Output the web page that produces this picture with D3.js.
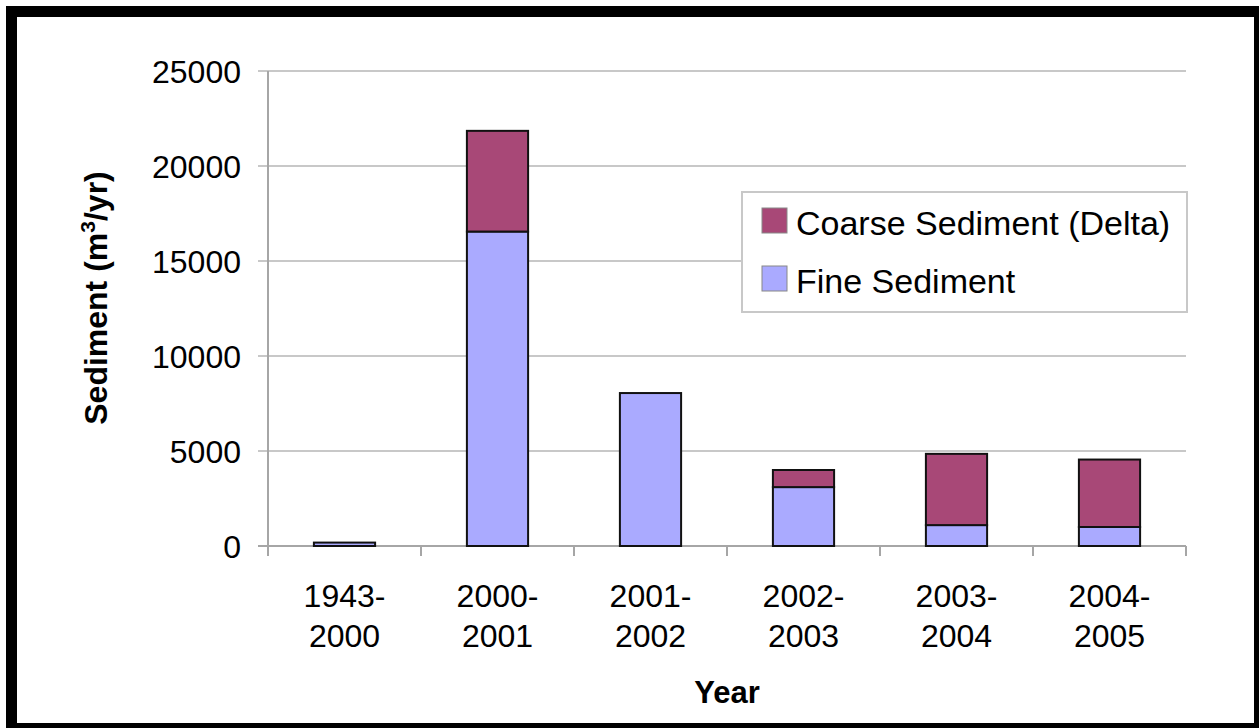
<!DOCTYPE html>
<html>
<head>
<meta charset="utf-8">
<script src="https://cdn.jsdelivr.net/npm/d3@7"></script>
<style>
  html, body { margin: 0; padding: 0; background: #fff; }
  svg { display: block; }
  text { font-family: "Liberation Sans", Arial, sans-serif; fill: #000; }
</style>
</head>
<body>
<svg id="chart" width="1259" height="728"></svg>
<script>
// Sediment volumes per period (m³/yr)
const periods = ["1943-2000", "2000-2001", "2001-2002", "2002-2003", "2003-2004", "2004-2005"];
const fineSediment = [180, 16550, 8050, 3100, 1100, 1000];
const coarseSediment = [0, 5300, 0, 900, 3750, 3550];
const seriesNames = ["Fine Sediment", "Coarse Sediment (Delta)"];
const yTicks = [0, 5000, 10000, 15000, 20000, 25000];

const colors = { "Fine Sediment": "#aaaaff", "Coarse Sediment (Delta)": "#a84877" };

const svg = d3.select("#chart");
const W = 1259, H = 728;

// Frame: black outer border with white panel
svg.append("rect").attr("x", 6).attr("y", 6).attr("width", W - 6).attr("height", H - 6).attr("fill", "#000");
svg.append("rect").attr("x", 17).attr("y", 17).attr("width", 1237).attr("height", 706).attr("fill", "#fff");

const plot = { left: 268, right: 1186, top: 71, bottom: 546 };

const x = d3.scaleBand()
  .domain(periods)
  .range([plot.left, plot.right])
  .paddingInner(0.6)
  .paddingOuter(0.3);

const y = d3.scaleLinear()
  .domain([0, 25000])
  .range([plot.bottom, plot.top]);

// Horizontal gridlines
const g = svg.append("g");
g.selectAll("line.grid")
  .data(yTicks)
  .join("line")
  .attr("class", "grid")
  .attr("x1", plot.left - 10)
  .attr("x2", plot.right)
  .attr("y1", d => y(d))
  .attr("y2", d => y(d))
  .attr("stroke", d => d === 0 ? "#a6a6a6" : "#c8c8c8")
  .attr("stroke-width", 2);

// Y axis line
g.append("line")
  .attr("x1", plot.left).attr("x2", plot.left)
  .attr("y1", plot.top).attr("y2", plot.bottom)
  .attr("stroke", "#a6a6a6").attr("stroke-width", 2);

// Category boundary ticks on x axis
const step = x.step();
const boundaries = d3.range(periods.length + 1).map(i => plot.left + i * step);
g.selectAll("line.xtick")
  .data(boundaries)
  .join("line")
  .attr("class", "xtick")
  .attr("x1", d => d).attr("x2", d => d)
  .attr("y1", plot.bottom).attr("y2", plot.bottom + 10)
  .attr("stroke", "#a6a6a6").attr("stroke-width", 2);

// Y tick labels
g.selectAll("text.ytick")
  .data(yTicks)
  .join("text")
  .attr("class", "ytick")
  .attr("x", 241)
  .attr("y", d => y(d))
  .attr("dy", "0.36em")
  .attr("text-anchor", "end")
  .attr("font-size", 32)
  .text(d => d);

// X tick labels (two lines)
const xl = g.selectAll("text.xlabel")
  .data(periods)
  .join("text")
  .attr("class", "xlabel")
  .attr("text-anchor", "middle")
  .attr("font-size", 32);
xl.append("tspan")
  .attr("x", d => x(d) + x.bandwidth() / 2)
  .attr("y", 607)
  .text(d => d.split("-")[0] + "-");
xl.append("tspan")
  .attr("x", d => x(d) + x.bandwidth() / 2)
  .attr("y", 647)
  .text(d => d.split("-")[1]);

// Stacked bars
const table = periods.map((p, i) => ({
  period: p,
  "Fine Sediment": fineSediment[i],
  "Coarse Sediment (Delta)": coarseSediment[i]
}));
const stacked = d3.stack().keys(seriesNames)(table);

svg.append("g")
  .selectAll("g")
  .data(stacked)
  .join("g")
  .attr("fill", d => colors[d.key])
  .selectAll("rect")
  .data(d => d.filter(s => s[1] - s[0] > 0))
  .join("rect")
  .attr("x", d => x(d.data.period))
  .attr("y", d => y(d[1]))
  .attr("width", x.bandwidth())
  .attr("height", d => y(d[0]) - y(d[1]))
  .attr("stroke", "#111")
  .attr("stroke-width", 2);

// Axis titles
svg.append("text")
  .attr("x", 727)
  .attr("y", 703)
  .attr("text-anchor", "middle")
  .attr("font-size", 31)
  .attr("font-weight", "bold")
  .text("Year");

const yTitle = svg.append("text")
  .attr("transform", "translate(107,298) rotate(-90)")
  .attr("text-anchor", "middle")
  .attr("font-size", 32)
  .attr("font-weight", "bold");
yTitle.append("tspan").text("Sediment (m");
yTitle.append("tspan").attr("font-size", 21).attr("dy", -12).text("3");
yTitle.append("tspan").attr("dy", 12).text("/yr)");

// Legend
const legend = svg.append("g");
legend.append("rect")
  .attr("x", 742).attr("y", 192)
  .attr("width", 445).attr("height", 120)
  .attr("fill", "#fff")
  .attr("stroke", "#c8c8c8").attr("stroke-width", 2);

const legendItems = ["Coarse Sediment (Delta)", "Fine Sediment"];
const li = legend.selectAll("g.item")
  .data(legendItems)
  .join("g")
  .attr("class", "item")
  .attr("transform", (d, i) => `translate(0, ${i * 58})`);
li.append("rect")
  .attr("x", 762).attr("y", 208)
  .attr("width", 25).attr("height", 25)
  .attr("fill", d => colors[d])
  .attr("stroke", "#888").attr("stroke-width", 1);
li.append("text")
  .attr("x", 796).attr("y", 235)
  .attr("font-size", 34)
  .text(d => d);
</script>
</body>
</html>
